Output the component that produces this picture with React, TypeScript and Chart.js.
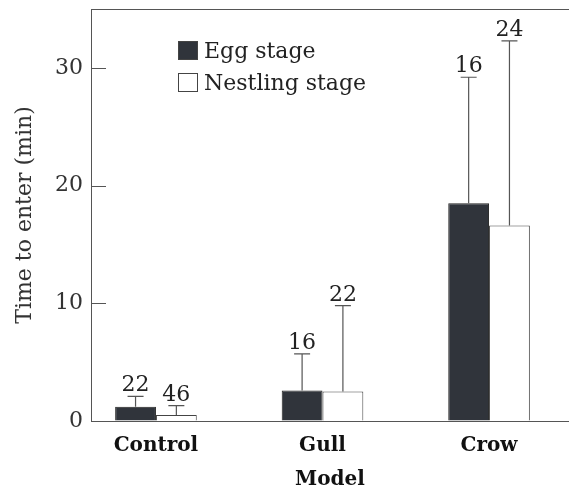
import { useEffect, useRef } from "react";
import { Chart, registerables } from "chart.js";

Chart.register(...registerables);

const categories = ["Control", "Gull", "Crow"];
const seriesLabels = ["Egg stage", "Nestling stage"];
const eggMeans = [1.2, 2.6, 18.5];
const eggUpper = [2.1, 5.7, 29.2];
const eggN = [22, 16, 16];
const nestMeans = [0.5, 2.5, 16.6];
const nestUpper = [1.3, 9.8, 32.3];
const nestN = [46, 22, 24];
const yTicks = [0, 10, 20, 30];

const FONT = "'DejaVu Serif', 'Liberation Serif', serif";
const EGG_COLOR = "#30343b";
const LINE = "#555";

const errorPlugin = {
  id: "errorBars",
  afterDatasetsDraw(chart: any) {
    const ctx = chart.ctx;
    const y = chart.scales.y;
    chart.data.datasets.forEach((ds: any, di: number) => {
      const meta = chart.getDatasetMeta(di);
      meta.data.forEach((bar: any, i: number) => {
        const top = y.getPixelForValue(ds.upper[i]);
        ctx.save();
        ctx.strokeStyle = LINE;
        ctx.lineWidth = 1.2;
        ctx.beginPath();
        ctx.moveTo(bar.x, bar.y);
        ctx.lineTo(bar.x, top);
        ctx.moveTo(bar.x - 8, top);
        ctx.lineTo(bar.x + 8, top);
        ctx.stroke();
        ctx.fillStyle = "#222";
        ctx.font = `22px ${FONT}`;
        ctx.textAlign = "center";
        ctx.textBaseline = "alphabetic";
        ctx.fillText(String(ds.n[i]), bar.x, top - 5);
        ctx.restore();
      });
    });
  },
};

const framePlugin = {
  id: "frame",
  afterDraw(chart: any) {
    const { ctx, chartArea } = chart;
    const y = chart.scales.y;
    ctx.save();
    ctx.strokeStyle = LINE;
    ctx.lineWidth = 1;
    ctx.beginPath();
    ctx.moveTo(chartArea.left, chartArea.top + 0.5);
    ctx.lineTo(chartArea.right, chartArea.top + 0.5);
    // inward tick marks
    yTicks.forEach((v) => {
      if (v === 0) return;
      const py = Math.round(y.getPixelForValue(v)) + 0.5;
      ctx.moveTo(chartArea.left, py);
      ctx.lineTo(chartArea.left + 15, py);
    });
    ctx.stroke();
    // legend
    const x0 = chartArea.left + 87;
    const rows = [chartArea.top + 32, chartArea.top + 64];
    chart.data.datasets.forEach((ds: any, i: number) => {
      const yTop = rows[i];
      ctx.fillStyle = ds.backgroundColor;
      ctx.fillRect(x0, yTop, 19, 18);
      ctx.strokeStyle = "#444";
      ctx.strokeRect(x0 + 0.5, yTop + 0.5, 19, 18);
      ctx.fillStyle = "#222";
      ctx.font = `22px ${FONT}`;
      ctx.textAlign = "left";
      ctx.textBaseline = "alphabetic";
      ctx.fillText(ds.label, x0 + 26, yTop + 17);
    });
    ctx.restore();
  },
};

export default function App() {
  const ref = useRef<HTMLCanvasElement | null>(null);
  useEffect(() => {
    if (!ref.current) return;
    const chart = new Chart(ref.current, {
      type: "bar",
      data: {
        datasets: [
          {
            label: seriesLabels[0],
            data: eggMeans.map((v, i) => ({ x: i, y: v })),
            backgroundColor: EGG_COLOR,
            borderColor: "#222",
            borderWidth: 1,
            upper: eggUpper,
            n: eggN,
          } as any,
          {
            label: seriesLabels[1],
            data: nestMeans.map((v, i) => ({ x: i, y: v })),
            backgroundColor: "#ffffff",
            borderColor: "#444",
            borderWidth: 1,
            upper: nestUpper,
            n: nestN,
          } as any,
        ],
      },
      options: {
        animation: false,
        responsive: true,
        maintainAspectRatio: false,
        layout: { padding: { top: 9, left: 0, right: 0, bottom: 0 } },
        datasets: { bar: { categoryPercentage: 0.49, barPercentage: 1 } },
        plugins: {
          legend: { display: false },
          tooltip: { enabled: false },
        },
        scales: {
          x: {
            type: "linear",
            offset: false,
            min: -0.39,
            max: 2.48,
            afterBuildTicks: (s: any) => {
              s.ticks = categories.map((_, i) => ({ value: i }));
            },
            afterFit: (s: any) => {
              s.height = 68;
              s.paddingLeft = 0;
              s.paddingRight = 0;
            },
            ticks: {
              callback: (v: any) => categories[v] ?? "",
              font: { family: FONT, size: 20, weight: "bold" },
              color: "#111",
              padding: 5,
              autoSkip: false,
              maxRotation: 0,
            },
            grid: { display: false },
            border: { display: true, color: LINE, width: 1 },
            title: {
              display: true,
              text: "Model",
              font: { family: FONT, size: 20, weight: "bold" },
              color: "#111",
              padding: { top: 0, bottom: -3 },
            },
          },
          y: {
            min: 0,
            max: 35,
            afterBuildTicks: (s: any) => {
              s.ticks = yTicks.map((v) => ({ value: v }));
            },
            afterFit: (s: any) => {
              s.width = 91;
              s.paddingTop = 0;
              s.paddingBottom = 0;
            },
            ticks: {
              font: { family: FONT, size: 22 },
              color: "#333",
              padding: 8,
            },
            grid: {
              drawOnChartArea: false,
              drawTicks: false,
            },
            border: { display: true, color: LINE, width: 1 },
            title: {
              display: true,
              text: "Time to enter (min)",
              font: { family: FONT, size: 22 },
              color: "#333",
              padding: { top: 12, bottom: 0 },
            },
          },
        },
      } as any,
      plugins: [errorPlugin, framePlugin],
    });
    return () => chart.destroy();
  }, []);
  return (
    <div style={{ position: "fixed", left: 0, top: 0, width: 569, height: 489, background: "#fff" }}>
      <canvas ref={ref} />
    </div>
  );
}
